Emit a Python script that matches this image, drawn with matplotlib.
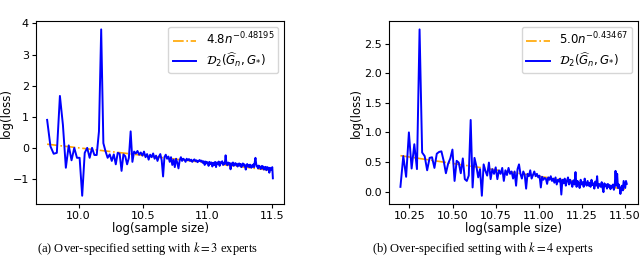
import matplotlib
matplotlib.use('Agg')
import matplotlib.pyplot as plt
import numpy as np

# sample sizes: n = start + step * i
n_start_a = 17250
n_start_b = 26850
n_step = 450

# log(loss), k = 3 experts
loss_a = [0.90, 0.05, -0.19, -0.16, 1.67, 0.74, -0.64, 0.08, -0.40, 0.00,
          -0.32, -0.32, -1.54, -0.16, 0.00, -0.32, 0.00, -0.23, -0.23, 0.53,
          3.81, 0.15, -0.11, -0.32, -0.21, -0.42, -0.21, -0.53, -0.16, -0.19,
          -0.74, -0.21, -0.27, -0.53, -0.32, 0.53, -0.45, -0.12, -0.18, -0.10,
          -0.22, -0.15, -0.25, -0.12, -0.30, -0.20, -0.38, -0.22, -0.30, -0.18,
          -0.35, -0.25, -0.42, -0.28, -0.20, -0.40, -0.92, -0.30, -0.22, -0.35,
          -0.28, -0.45, -0.30, -0.55, -0.38, -0.62, -0.35, -0.48, -0.66, -0.40,
          -0.30, -0.42, -0.35, -0.38, -0.45, -0.35, -0.40, -0.36, -0.42, -0.38,
          -0.45, -0.40, -0.37, -0.43, -0.40, -0.46, -0.42, -0.39, -0.44, -0.41,
          -0.48, -0.43, -0.55, -0.44, -0.50, -0.46, -0.58, -0.45, -0.52, -0.47,
          -0.60, -0.48, -0.55, -0.45, -0.62, -0.47, -0.52, -0.44, -0.58, -0.46,
          -0.50, -0.43, -0.55, -0.48, -0.52, -0.24, -0.50, -0.56, -0.47, -0.53,
          -0.49, -0.69, -0.50, -0.55, -0.47, -0.58, -0.52, -0.49, -0.56, -0.51,
          -0.60, -0.54, -0.50, -0.58, -0.52, -0.62, -0.55, -0.50, -0.57, -0.53,
          -0.60, -0.70, -0.55, -0.52, -0.60, -0.56, -0.62, -0.54, -0.58, -0.64,
          -0.56, -0.60, -0.53, -0.62, -0.45, -0.32, -0.50, -0.60, -0.58, -0.66,
          -0.57, -0.62, -0.60, -0.68, -0.62, -0.58, -0.65, -0.60, -0.70, -0.63,
          -0.67, -0.61, -0.72, -0.65, -0.62, -0.70, -0.66, -0.80, -0.64, -0.72,
          -0.68, -0.66, -0.62, -0.98]

# log(loss), k = 4 experts
loss_b = [0.08, 0.60, 0.25, 1.00, 0.39, 0.80, 0.38, 2.74, 0.66, 0.60,
          0.36, 0.57, 0.58, 0.40, 0.64, 0.67, 0.68, 0.52, 0.31, 0.47,
          0.56, 0.71, 0.18, 0.52, 0.49, 0.31, 0.56, 0.21, 0.18, 0.27,
          1.21, 0.07, 0.57, 0.43, 0.24, 0.38, -0.07, 0.46, 0.35, 0.27,
          0.49, 0.21, 0.38, 0.30, 0.41, 0.21, 0.36, 0.30, 0.40, 0.18,
          0.36, 0.28, 0.40, 0.30, 0.34, 0.22, 0.34, 0.10, 0.38, 0.46,
          0.30, 0.22, 0.34, 0.28, 0.05, 0.30, 0.26, 0.36, 0.22, 0.28,
          0.34, 0.26, 0.30, 0.24, 0.27, 0.07, 0.25, 0.20, 0.23, 0.22,
          0.13, 0.24, 0.20, 0.26, 0.18, 0.22, 0.15, 0.24, 0.12, 0.20,
          0.17, 0.22, -0.05, 0.20, 0.14, 0.22, 0.10, 0.18, 0.24, 0.12,
          0.20, 0.15, 0.08, 0.19, 0.12, 0.33, 0.08, 0.18, 0.14, 0.06,
          0.20, 0.12, 0.16, 0.08, 0.22, 0.13, 0.10, 0.18, 0.10, 0.15,
          0.08, 0.20, 0.11, 0.14, 0.05, 0.17, 0.10, 0.26, 0.06, 0.13,
          0.12, 0.08, 0.16, 0.06, -0.01, 0.14, 0.09, 0.12, 0.05, 0.13,
          0.08, 0.11, 0.04, 0.10, 0.07, 0.12, 0.03, 0.09, 0.35, 0.10,
          0.30, 0.06, 0.12, 0.08, -0.04, 0.05, 0.10, 0.02, 0.18, 0.12,
          0.06, 0.18, 0.13]

# fitted lines: log(loss) = c - r * log(n)
fit_a = (4.82, 0.48195)
fit_b = (5.04, 0.43467)
fit_label_a = r'$4.8n^{-0.48195}$'
fit_label_b = r'$5.0n^{-0.43467}$'
loss_label = r'$\mathcal{D}_2(\widehat{G}_n, G_{*})$'

captions = [r'(a) Over-specified setting with $k = 3$ experts',
            r'(b) Over-specified setting with $k = 4$ experts']

xticks_a = [10.0, 10.5, 11.0, 11.5]
yticks_a = [-1, 0, 1, 2, 3, 4]
xticks_b = [10.25, 10.50, 10.75, 11.00, 11.25, 11.50]
yticks_b = [0.0, 0.5, 1.0, 1.5, 2.0, 2.5]

fig = plt.figure(figsize=(6.4, 2.57), dpi=100)
ax1 = fig.add_axes([0.056, 0.206, 0.388, 0.712])
ax2 = fig.add_axes([0.608, 0.206, 0.389, 0.712])

panels = [(ax1, n_start_a, loss_a, fit_a, fit_label_a, xticks_a, yticks_a),
          (ax2, n_start_b, loss_b, fit_b, fit_label_b, xticks_b, yticks_b)]

for ax, n0, loss, fit, flabel, xt, yt in panels:
    x = np.log(n0 + n_step * np.arange(len(loss)))
    ax.plot(x, fit[0] - fit[1] * x, color='orange', ls='-.', lw=1.2, label=flabel)
    ax.plot(x, loss, color='blue', lw=1.4, label=loss_label)
    ax.set_xticks(xt)
    ax.set_yticks(yt)
    ax.tick_params(labelsize=8, length=3, pad=2)
    ax.set_xlabel('log(sample size)', fontsize=8.5, labelpad=1)
    ax.set_ylabel('log(loss)', fontsize=8.5, labelpad=1)
    ax.legend(loc='upper right', fontsize=8.5, labelspacing=0.25,
              borderpad=0.35)

# keep the left y label inside the figure
ax1.yaxis.set_label_coords(-0.092, 0.5)

fig.text(0.23, 0.035, captions[0], ha='center', va='center', fontsize=9,
         family='Liberation Serif', math_fontfamily='stix')
fig.text(0.755, 0.035, captions[1], ha='center', va='center', fontsize=9,
         family='Liberation Serif', math_fontfamily='stix')

fig.savefig('out.png', dpi=100)
